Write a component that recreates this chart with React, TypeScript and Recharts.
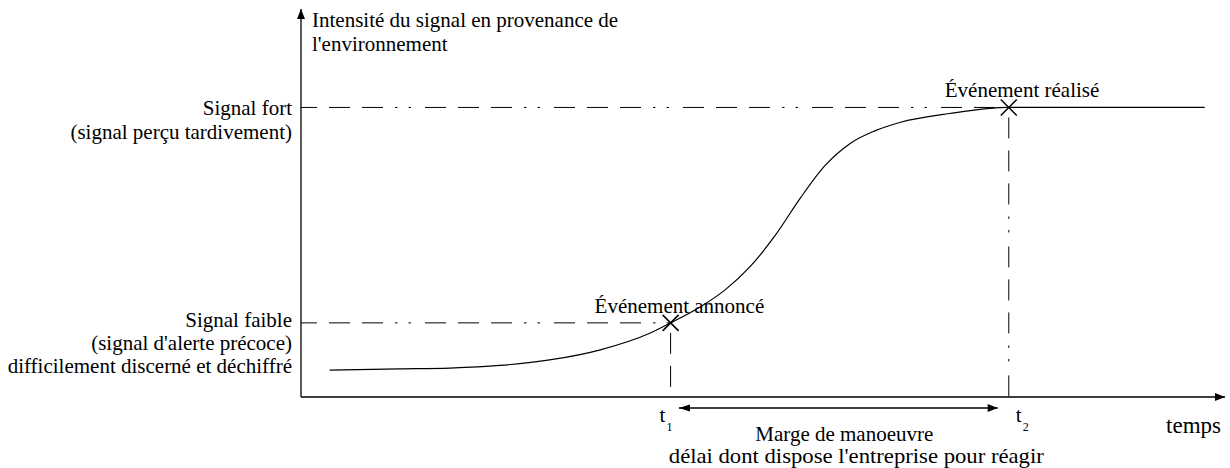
import React from "react";
import {
  ComposedChart,
  Line,
  Scatter,
  XAxis,
  YAxis,
  ReferenceLine,
  ReferenceDot,
} from "recharts";

// time axis 0..100, intensity axis 0..134 (strong signal = 100)
const curveT = [3.1, 10.7, 16.1, 21.5, 26.9, 32.4, 37.8, 40.0, 43.2, 45.9, 48.6, 51.3, 54.0, 56.7, 59.4, 62.1, 64.8, 70.2, 76.6, 97.8];
const curveI = [9.3, 9.7, 10.0, 10.9, 12.8, 16.3, 22.1, 25.6, 31.1, 37.0, 45.0, 55.7, 68.5, 79.9, 87.5, 91.9, 94.8, 97.9, 100, 100];

const t1 = 40.0;
const t2 = 76.6;
const weakSignal = 25.6;
const strongSignal = 100;
const xMax = 100;
const yMax = 134;
const marginRow = -3.8; // row of the double arrow, just under the time axis
const marginFrom = 40.9;
const marginTo = 75.4;

const events = [
  { t: t1, i: weakSignal, label: "Événement annoncé" },
  { t: t2, i: strongSignal, label: "Événement réalisé" },
];

const yTickLabels: Record<string, string[]> = {
  [strongSignal]: ["Signal fort", "(signal perçu tardivement)"],
  [weakSignal]: ["Signal faible", "(signal d'alerte précoce)", "difficilement discerné et déchiffré"],
};
const xTickLabels: Record<string, string[]> = {
  [t1]: ["t", "1"],
  [t2]: ["t", "2"],
};

const titleLines = ["Intensité du signal en provenance de", "l'environnement"];
const marginLines = ["Marge de manoeuvre", "délai dont dispose l'entreprise pour réagir"];
const xTitle = "temps";

const curve = curveT.map((t, k) => ({ t, i: curveI[k] }));

const FONT = "'Liberation Serif', 'Times New Roman', serif";
const DASH = "21 12 21 12 21 12 2.5 11 2.5 14";

const YTick = (props: any) => {
  const { x, y, payload } = props;
  const lines = yTickLabels[String(payload.value)] || [];
  const first = payload.value === strongSignal ? 8 : 4;
  return (
    <g>
      {lines.map((l, k) => (
        <text key={k} x={x} y={y + first + k * 23.3} textAnchor="end" fontSize={21} fontFamily={FONT} fill="#000">
          {l}
        </text>
      ))}
    </g>
  );
};

const XTick = (props: any) => {
  const { x, y, payload } = props;
  const [base, sub] = xTickLabels[String(payload.value)] || ["", ""];
  const dx = payload.value === t1 ? -11 : 7;
  return (
    <g fontFamily={FONT} fill="#000">
      <text x={x + dx} y={y + 25} fontSize={21} fill="#000">{base}</text>
      <text x={x + dx + 7} y={y + 34} fontSize={12} fill="#000">{sub}</text>
    </g>
  );
};

const Cross = (props: any) => {
  const { cx, cy, payload } = props;
  const s = 8;
  const isFirst = payload.t === t1;
  return (
    <g>
      <line x1={cx - s} y1={cy - s} x2={cx + s} y2={cy + s} stroke="#000" strokeWidth={1.5} />
      <line x1={cx - s} y1={cy + s} x2={cx + s} y2={cy - s} stroke="#000" strokeWidth={1.5} />
      <text
        x={isFirst ? cx - 76 : cx - 64}
        y={cy - 10}
        fontSize={21}
        fontFamily={FONT}
        fill="#000"
      >
        {payload.label}
      </text>
    </g>
  );
};

const UpArrow = (props: any) => {
  const { cx, cy } = props;
  return <path d={`M${cx},${cy} L${cx - 4},${cy + 10} L${cx + 4},${cy + 10} Z`} fill="#000" />;
};

const RightArrow = (props: any) => {
  const { cx, cy } = props;
  return <path d={`M${cx},${cy} L${cx - 10},${cy - 4} L${cx - 10},${cy + 4} Z`} fill="#000" />;
};

const LeftHead = (props: any) => {
  const { cx, cy } = props;
  return <path d={`M${cx},${cy} L${cx + 11},${cy - 3.5} L${cx + 11},${cy + 3.5} Z`} fill="#000" />;
};

const MarginText = (props: any) => {
  const { cx, cy } = props;
  return (
    <g fontFamily={FONT} fill="#000" fontSize={21}>
      <text x={cx + 6} y={cy + 33} textAnchor="middle">{marginLines[0]}</text>
      <text x={cx + 18} y={cy + 55} textAnchor="middle" textLength={375} lengthAdjust="spacingAndGlyphs">
        {marginLines[1]}
      </text>
    </g>
  );
};

const TitleText = (props: any) => {
  const { cx, cy } = props;
  return (
    <g fontFamily={FONT} fill="#000" fontSize={21}>
      {titleLines.map((l, k) => (
        <text key={k} x={cx + 11} y={cy + 18 + k * 24} textAnchor="start">{l}</text>
      ))}
    </g>
  );
};

const TempsText = (props: any) => {
  const { cx, cy } = props;
  return (
    <text x={cx - 4} y={cy + 36} textAnchor="end" fontFamily={FONT} fontSize={23} fill="#000">
      {xTitle}
    </text>
  );
};

export default function App() {
  return (
    <div style={{ position: "absolute", left: 0, top: 0, width: 1230, height: 468, background: "#fff" }}>
      <ComposedChart width={1230} height={468} data={curve} margin={{ top: 9, right: 5, bottom: 0, left: 0 }}>
        <XAxis
          type="number"
          dataKey="t"
          domain={[0, xMax]}
          ticks={[t1, t2]}
          tick={<XTick />}
          tickLine={false}
          tickSize={0}
          tickMargin={0}
          axisLine={{ stroke: "#000", strokeWidth: 1.3 }}
          height={71}
          allowDataOverflow
        />
        <YAxis
          type="number"
          dataKey="i"
          domain={[0, yMax]}
          ticks={[weakSignal, strongSignal]}
          tick={<YTick />}
          tickLine={false}
          tickSize={0}
          tickMargin={9}
          axisLine={{ stroke: "#000", strokeWidth: 1.3 }}
          width={301}
          allowDataOverflow
        />

        <ReferenceLine segment={[{ x: 0, y: strongSignal }, { x: t2, y: strongSignal }]} stroke="#000" strokeDasharray={DASH} strokeDashoffset={5} />
        <ReferenceLine segment={[{ x: 0, y: weakSignal }, { x: t1, y: weakSignal }]} stroke="#000" strokeDasharray={DASH} strokeDashoffset={5} />
        <ReferenceLine segment={[{ x: t1, y: weakSignal }, { x: t1, y: 0 }]} stroke="#000" strokeDasharray={DASH} strokeDashoffset={-10} />
        <ReferenceLine segment={[{ x: t2, y: strongSignal }, { x: t2, y: 0 }]} stroke="#000" strokeDasharray={DASH} strokeDashoffset={-10} />

        <Line
          type="monotone"
          dataKey="i"
          stroke="#000"
          strokeWidth={1.2}
          dot={false}
          activeDot={false}
          isAnimationActive={false}
        />
        <Scatter data={events} dataKey="i" shape={<Cross />} isAnimationActive={false} />

        <ReferenceLine
          segment={[{ x: marginFrom, y: marginRow }, { x: marginTo, y: marginRow }]}
          stroke="#000"
          strokeWidth={1.3}
          ifOverflow="visible"
        />
        <ReferenceDot x={marginFrom} y={marginRow} ifOverflow="visible" shape={<LeftHead />} />
        <ReferenceDot x={marginTo} y={marginRow} ifOverflow="visible" shape={<RightArrow />} />
        <ReferenceDot x={(marginFrom + marginTo) / 2} y={marginRow} ifOverflow="visible" shape={<MarginText />} />

        <ReferenceDot x={0} y={yMax} ifOverflow="visible" shape={<UpArrow />} />
        <ReferenceDot x={0} y={yMax} ifOverflow="visible" shape={<TitleText />} />
        <ReferenceDot x={xMax} y={0} ifOverflow="visible" shape={<RightArrow />} />
        <ReferenceDot x={xMax} y={0} ifOverflow="visible" shape={<TempsText />} />
      </ComposedChart>
    </div>
  );
}
